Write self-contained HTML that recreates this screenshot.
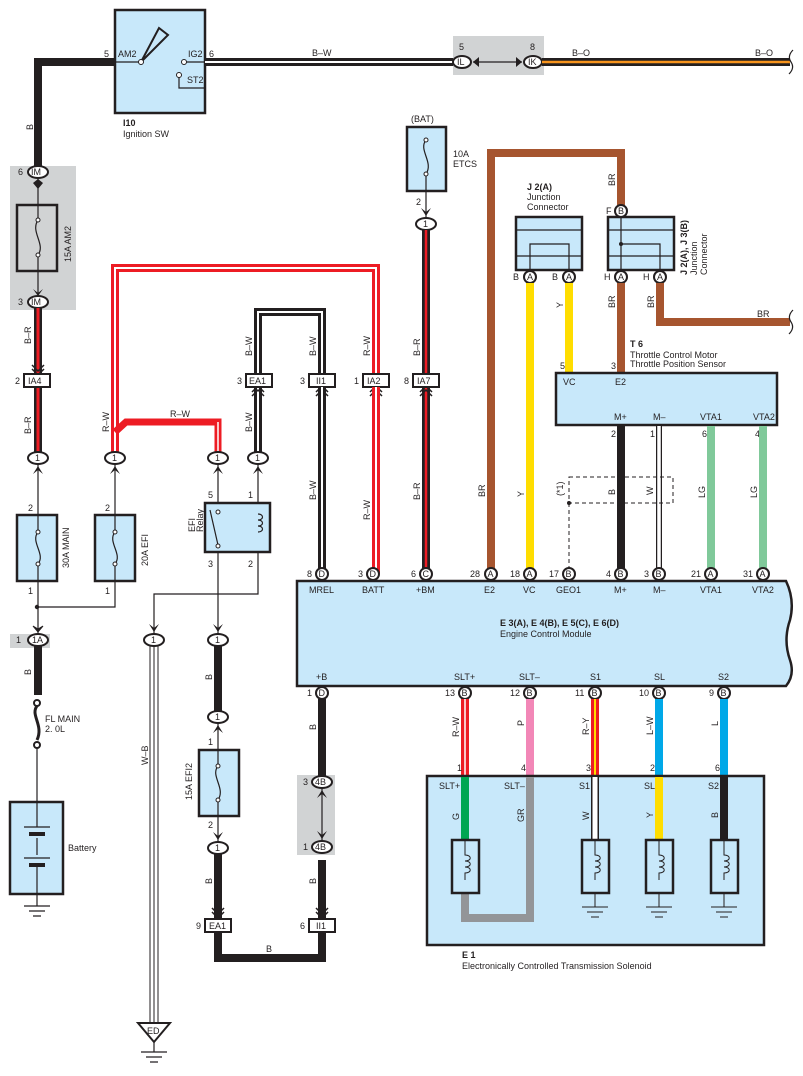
<!DOCTYPE html>
<html><head><meta charset="utf-8"><style>
html,body{margin:0;padding:0;background:#fff}
svg{display:block}
text{font-family:"Liberation Sans",sans-serif;font-size:9px;fill:#231f20}
.box{fill:#c8e8fa;stroke:#231f20;stroke-width:2.5}
.thin{stroke:#231f20;stroke-width:1.2;fill:none}
.pin{fill:#fff;stroke:#231f20;stroke-width:2}
</style></head><body>
<svg width="803" height="1076" viewBox="0 0 803 1076" xmlns="http://www.w3.org/2000/svg">
<!-- gray areas -->
<rect x="453" y="36" width="91" height="39" fill="#d1d3d4"/>
<rect x="10" y="166" width="66" height="144" fill="#d1d3d4"/>
<rect x="10" y="634" width="40" height="14" fill="#d1d3d4"/>
<rect x="297" y="775" width="38" height="80" fill="#d1d3d4"/>

<!-- Ignition SW -->
<rect class="box" x="115" y="10" width="90" height="103"/>
<path class="thin" d="M115 62 H141 M184 62 H205 M179 75 V88 H205"/>
<polygon points="141,62 159,28 168,35" fill="none" stroke="#231f20" stroke-width="2"/>
<circle cx="141" cy="62" r="2.5" fill="#fff" stroke="#231f20"/>
<circle cx="184" cy="62" r="2.5" fill="#fff" stroke="#231f20"/>
<circle cx="179" cy="75" r="2.5" fill="#fff" stroke="#231f20"/>
<text x="118" y="57">AM2</text><text x="188" y="57">IG2</text><text x="187" y="83">ST2</text>
<text x="104" y="57">5</text><text x="209" y="57">6</text>
<text x="123" y="126" font-weight="bold">I10</text><text x="123" y="137">Ignition SW</text>

<!-- top B wire -->
<path d="M115 62 H38 V166" stroke="#231f20" stroke-width="8" fill="none"/>
<text transform="translate(33,130) rotate(-90)">B</text>
<!-- B-W top -->
<path d="M205 62 H453" stroke="#231f20" stroke-width="8"/>
<path d="M205 62 H453" stroke="#fff" stroke-width="2"/>
<text x="312" y="56">B–W</text>
<ellipse class="pin" cx="462" cy="62" rx="9" ry="6"/><text x="457" y="65">IL</text><text x="459" y="50">5</text>
<ellipse class="pin" cx="533" cy="62" rx="9" ry="6"/><text x="528" y="65">IK</text><text x="530" y="50">8</text>
<path class="thin" d="M473 62 H522"/>
<path d="M479 57 L473 62 L479 67 Z M516 57 L522 62 L516 67 Z" fill="#231f20"/>
<path d="M542 62 H790" stroke="#231f20" stroke-width="8"/>
<path d="M542 62 H790" stroke="#f7941d" stroke-width="2.5"/>
<text x="572" y="56">B–O</text><text x="755" y="56">B–O</text>
<path d="M793 50 Q787 56 791 62 Q795 68 789 74" class="thin" stroke-width="2"/>

<!-- chevrons -->
<g fill="#231f20">
<path d="M33 474 L38 466 L43 474 L38 470 Z"/><path d="M110 474 L115 466 L120 474 L115 470 Z"/>
<path d="M213 474 L218 466 L223 474 L218 470 Z"/><path d="M253 474 L258 466 L263 474 L258 470 Z"/>
<path d="M149 624 L154 632 L159 624 L154 628 Z"/><path d="M213 624 L218 632 L223 624 L218 628 Z"/>
<path d="M213 733 L218 725 L223 733 L218 729 Z"/><path d="M213 832 L218 840 L223 832 L218 836 Z"/>
<path d="M317 798 L322 790 L327 798 L322 794 Z"/><path d="M317 831 L322 839 L327 831 L322 835 Z"/>
<path d="M421 208 L426 216 L431 208 L426 212 Z"/>
</g>
<path d="M212 908 L218 914 L224 908 M212 912 L218 918 L224 912" stroke="#231f20" stroke-width="1.5" fill="none"/>
<path d="M316 908 L322 914 L328 908 M316 912 L322 918 L328 912" stroke="#231f20" stroke-width="1.5" fill="none"/>

<!-- AM2 fuse -->
<ellipse class="pin" cx="38" cy="172" rx="10" ry="6"/><text x="31" y="175">IM</text><text x="18" y="175">6</text>
<path class="thin" d="M38 178 V205 M38 271 V296"/>
<path d="M33 183 L38 179 L43 183 L38 189 Z" fill="#231f20"/>
<path d="M33 289 L38 293 L43 289 L38 296 Z" fill="#231f20"/>
<rect x="17" y="205" width="40" height="66" fill="none" stroke="#231f20" stroke-width="2.5"/>
<path class="thin" d="M38 205 V220 C30 232,46 244,38 255 V271"/>
<circle cx="38" cy="220" r="2" fill="#fff" stroke="#231f20"/><circle cx="38" cy="255" r="2" fill="#fff" stroke="#231f20"/>
<text transform="translate(71,262) rotate(-90)">15A AM2</text>
<ellipse class="pin" cx="38" cy="302" rx="10" ry="6"/><text x="31" y="305">IM</text><text x="18" y="305">3</text>

<!-- B-R left -->
<path d="M38 308 V458" stroke="#231f20" stroke-width="8"/><path d="M38 308 V458" stroke="#ed1c24" stroke-width="3"/>
<text transform="translate(31,344) rotate(-90)">B–R</text><text transform="translate(31,434) rotate(-90)">B–R</text>
<path d="M32 365 L38 371 L44 365 M32 369 L38 375 L44 369" stroke="#231f20" stroke-width="1.5" fill="none"/>
<rect x="24" y="374" width="26" height="13" fill="#fff" stroke="#231f20" stroke-width="2"/><text x="28" y="384">IA4</text><text x="15" y="384">2</text>
<ellipse class="pin" cx="38" cy="458" rx="10" ry="6"/><text x="35" y="461">1</text>
<path class="thin" d="M38 464 V515 M38 581 V634"/>
<rect class="box" x="17" y="515" width="40" height="66"/>
<path class="thin" d="M38 515 V532 C30 542,46 554,38 564 V581"/>
<circle cx="38" cy="532" r="2" fill="#fff" stroke="#231f20"/><circle cx="38" cy="564" r="2" fill="#fff" stroke="#231f20"/>
<text transform="translate(69,568) rotate(-90)">30A MAIN</text>
<text x="28" y="511">2</text><text x="28" y="594">1</text>
<circle cx="37" cy="607" r="2.2" fill="#231f20"/>
<path class="thin" d="M37 607 H115 V581"/>
<path d="M33 626 L38 632 L43 626 L38 629 Z" fill="#231f20" stroke="#231f20"/>
<ellipse class="pin" cx="38" cy="640" rx="10" ry="6"/><text x="32" y="643">1A</text><text x="16" y="643">1</text>
<path d="M38 646 V695" stroke="#231f20" stroke-width="8"/>
<text transform="translate(31,675) rotate(-90)">B</text>
<circle cx="37" cy="703" r="3" fill="#fff" stroke="#231f20" stroke-width="2"/>
<path d="M37 706 C30 715,44 725,37 740" stroke="#231f20" stroke-width="3" fill="none"/>
<circle cx="37" cy="745" r="3" fill="#fff" stroke="#231f20" stroke-width="2"/>
<text x="45" y="722">FL MAIN</text><text x="45" y="732">2. 0L</text>
<path class="thin" d="M37 748 V802"/>
<rect class="box" x="10" y="802" width="53" height="92"/>
<path class="thin" d="M37 802 V827 M24 827 H50 M37 838 V855 M24 858 H50 M37 865 V894"/>
<rect x="29" y="832" width="16" height="4" fill="#231f20"/><rect x="29" y="863" width="16" height="4" fill="#231f20"/>
<text x="68" y="851">Battery</text>
<path class="thin" d="M37 894 V906 M24 906 H50 M29 911 H45 M33 916 H41"/>

<!-- red R-W wires -->
<path d="M115 458 V268 H376 V380" stroke="#ed1c24" stroke-width="8" fill="none"/>
<path d="M115 458 V268 H376 V380" stroke="#fff" stroke-width="2" fill="none"/>
<path d="M115 432 L126 422 H218 V458" stroke="#ed1c24" stroke-width="7" fill="none"/>
<path d="M218 422 V458" stroke="#fff" stroke-width="1.5"/>
<text transform="translate(109,432) rotate(-90)">R–W</text>
<text x="170" y="417">R–W</text>
<text transform="translate(370,356) rotate(-90)">R–W</text>
<path d="M370 392 L376 386 L382 392 M370 396 L376 390 L382 396" stroke="#231f20" stroke-width="1.5" fill="none"/>
<rect x="363" y="374" width="26" height="13" fill="#fff" stroke="#231f20" stroke-width="2"/><text x="367" y="384">IA2</text><text x="354" y="384">1</text>
<path d="M376 387 V574" stroke="#ed1c24" stroke-width="8"/><path d="M376 387 V574" stroke="#fff" stroke-width="2"/>
<text transform="translate(370,520) rotate(-90)">R–W</text>

<!-- B-W bridge -->
<path d="M258 458 V312 H322 V380" stroke="#231f20" stroke-width="8" fill="none"/>
<path d="M258 458 V312 H322 V380" stroke="#fff" stroke-width="2" fill="none"/>
<text transform="translate(252,356) rotate(-90)">B–W</text><text transform="translate(316,356) rotate(-90)">B–W</text>
<text transform="translate(252,432) rotate(-90)">B–W</text>
<path d="M252 392 L258 386 L264 392 M252 396 L258 390 L264 396" stroke="#231f20" stroke-width="1.5" fill="none"/>
<rect x="246" y="374" width="26" height="13" fill="#fff" stroke="#231f20" stroke-width="2"/><text x="249" y="384">EA1</text><text x="237" y="384">3</text>
<path d="M316 392 L322 386 L328 392 M316 396 L322 390 L328 396" stroke="#231f20" stroke-width="1.5" fill="none"/>
<rect x="309" y="374" width="26" height="13" fill="#fff" stroke="#231f20" stroke-width="2"/><text x="316" y="384">II1</text><text x="300" y="384">3</text>
<path d="M322 387 V574" stroke="#231f20" stroke-width="8"/><path d="M322 387 V574" stroke="#fff" stroke-width="2"/>
<text transform="translate(316,500) rotate(-90)">B–W</text>

<!-- 20A EFI -->
<ellipse class="pin" cx="115" cy="458" rx="10" ry="6"/><text x="112" y="461">1</text>
<path class="thin" d="M115 464 V515"/>
<rect class="box" x="95" y="515" width="40" height="66"/>
<path class="thin" d="M115 515 V532 C107 542,123 554,115 564 V581"/>
<circle cx="115" cy="532" r="2" fill="#fff" stroke="#231f20"/><circle cx="115" cy="564" r="2" fill="#fff" stroke="#231f20"/>
<text transform="translate(148,566) rotate(-90)">20A EFI</text>
<text x="105" y="511">2</text><text x="105" y="594">1</text>

<!-- EFI relay -->
<ellipse class="pin" cx="218" cy="458" rx="10" ry="6"/><text x="215" y="461">1</text>
<ellipse class="pin" cx="258" cy="458" rx="10" ry="6"/><text x="255" y="461">1</text>
<path class="thin" d="M218 464 V512 M258 464 V552 M218 548 V634 M258 552 V594 H154 V634"/>
<rect class="box" x="205" y="503" width="65" height="49"/>
<path class="thin" d="M210 510 L218 545"/>
<circle cx="218" cy="512" r="2" fill="#fff" stroke="#231f20"/><circle cx="218" cy="546" r="2" fill="#fff" stroke="#231f20"/>
<path class="thin" d="M258 514 C264 514,264 520,258 520 C264 520,264 526,258 526 C264 526,264 532,258 532"/>
<text x="208" y="498">5</text><text x="248" y="498">1</text><text x="208" y="567">3</text><text x="248" y="567">2</text>
<text transform="translate(195,532) rotate(-90)">EFI</text><text transform="translate(203,532) rotate(-90)">Relay</text>
<ellipse class="pin" cx="154" cy="640" rx="10" ry="6"/><text x="151" y="643">1</text>
<ellipse class="pin" cx="218" cy="640" rx="10" ry="6"/><text x="215" y="643">1</text>
<path d="M150 646 V1028 M154 646 V1028 M158 646 V1028" stroke="#231f20" stroke-width="1"/>
<text transform="translate(148,765) rotate(-90)">W–B</text>
<polygon points="138,1023 170,1023 154,1042" fill="#fff" stroke="#231f20" stroke-width="2"/>
<text x="147" y="1034">ED</text>
<path class="thin" d="M154 1042 V1052 M141 1052 H167 M146 1057 H162 M150 1062 H158"/>
<path d="M218 646 V711" stroke="#231f20" stroke-width="8"/>
<text transform="translate(212,680) rotate(-90)">B</text>
<ellipse class="pin" cx="218" cy="717" rx="10" ry="6"/><text x="215" y="720">1</text>
<path class="thin" d="M218 723 V750 M218 816 V842"/>
<rect class="box" x="199" y="750" width="40" height="66"/>
<path class="thin" d="M218 750 V766 C210 776,226 788,218 800 V816"/>
<circle cx="218" cy="766" r="2" fill="#fff" stroke="#231f20"/><circle cx="218" cy="800" r="2" fill="#fff" stroke="#231f20"/>
<text transform="translate(192,800) rotate(-90)">15A EFI2</text>
<text x="208" y="745">1</text><text x="208" y="828">2</text>
<ellipse class="pin" cx="218" cy="848" rx="10" ry="6"/><text x="215" y="851">1</text>
<path d="M218 854 V958 H322 V860" stroke="#231f20" stroke-width="8" fill="none"/>
<text transform="translate(212,884) rotate(-90)">B</text><text x="266" y="952">B</text>
<rect x="205" y="919" width="26" height="13" fill="#fff" stroke="#231f20" stroke-width="2"/><text x="209" y="929">EA1</text><text x="196" y="929">9</text>
<rect x="309" y="919" width="26" height="13" fill="#fff" stroke="#231f20" stroke-width="2"/><text x="316" y="929">II1</text><text x="300" y="929">6</text>
<text transform="translate(316,884) rotate(-90)">B</text>
<ellipse class="pin" cx="322" cy="847" rx="10" ry="6"/><text x="315" y="850">4B</text><text x="303" y="850">1</text>
<ellipse class="pin" cx="322" cy="782" rx="10" ry="6"/><text x="315" y="785">4B</text><text x="303" y="785">3</text>
<path class="thin" d="M322 788 V841"/>
<path d="M322 699 V776" stroke="#231f20" stroke-width="8"/>
<text transform="translate(316,730) rotate(-90)">B</text>

<!-- 10A ETCS -->
<text x="411" y="122">(BAT)</text>
<rect class="box" x="407" y="127" width="39" height="64"/>
<path class="thin" d="M426 140 C418 150,434 162,426 174 V218"/>
<circle cx="426" cy="140" r="2" fill="#fff" stroke="#231f20"/><circle cx="426" cy="174" r="2" fill="#fff" stroke="#231f20"/>
<text x="453" y="157">10A</text><text x="453" y="167">ETCS</text><text x="416" y="205">2</text>
<ellipse class="pin" cx="426" cy="224" rx="10" ry="6"/><text x="423" y="227">1</text>
<path d="M426 230 V374 M426 387 V574" stroke="#231f20" stroke-width="8"/>
<path d="M426 230 V374 M426 387 V574" stroke="#ed1c24" stroke-width="2.5"/>
<text transform="translate(420,356) rotate(-90)">B–R</text><text transform="translate(420,500) rotate(-90)">B–R</text>
<path d="M420 392 L426 386 L432 392 M420 396 L426 390 L432 396" stroke="#231f20" stroke-width="1.5" fill="none"/>
<rect x="413" y="374" width="26" height="13" fill="#fff" stroke="#231f20" stroke-width="2"/><text x="417" y="384">IA7</text><text x="404" y="384">8</text>

<!-- brown/yellow -->
<path d="M491 574 V153 H621 V205" stroke="#a6552f" stroke-width="8" fill="none"/>
<text transform="translate(485,497) rotate(-90)">BR</text><text transform="translate(615,186) rotate(-90)">BR</text>
<rect class="box" x="516" y="217" width="66" height="53"/>
<path class="thin" d="M516 230 H582 M516 256 H582 M530 277 V244 H569 V277"/>
<text x="527" y="190" font-weight="bold">J 2(A)</text><text x="527" y="200">Junction</text><text x="527" y="210">Connector</text>
<rect class="box" x="608" y="217" width="66" height="53"/>
<path class="thin" d="M608 230 H674 M608 256 H674 M621 217 V277 M621 244 H660 V277"/>
<circle cx="621" cy="244" r="2" fill="#231f20"/>
<text transform="translate(687,275) rotate(-90)" font-weight="bold">J 2(A), J 3(B)</text>
<text transform="translate(697,275) rotate(-90)">Junction</text><text transform="translate(707,275) rotate(-90)">Connector</text>
<circle class="pin" cx="621" cy="211" r="6"/><text x="618" y="214">B</text><text x="606" y="214">F</text>
<g>
<circle class="pin" cx="530" cy="277" r="6"/><text x="527" y="280">A</text><text x="513" y="280">B</text>
<circle class="pin" cx="569" cy="277" r="6"/><text x="566" y="280">A</text><text x="552" y="280">B</text>
<circle class="pin" cx="621" cy="277" r="6"/><text x="618" y="280">A</text><text x="604" y="280">H</text>
<circle class="pin" cx="660" cy="277" r="6"/><text x="657" y="280">A</text><text x="643" y="280">H</text>
</g>
<path d="M530 283 V568" stroke="#ffdd00" stroke-width="8"/>
<path d="M569 283 V373" stroke="#ffdd00" stroke-width="8"/>
<path d="M621 283 V373" stroke="#a6552f" stroke-width="8"/>
<path d="M660 283 V322 H790" stroke="#a6552f" stroke-width="8" fill="none"/>
<path d="M793 310 Q787 316 791 322 Q795 328 789 334" class="thin" stroke-width="2"/>
<text x="757" y="317">BR</text>
<text transform="translate(563,308) rotate(-90)">Y</text><text transform="translate(524,497) rotate(-90)">Y</text>
<text transform="translate(615,308) rotate(-90)">BR</text><text transform="translate(654,308) rotate(-90)">BR</text>
<text x="630" y="347" font-weight="bold">T 6</text><text x="630" y="358">Throttle Control Motor</text><text x="630" y="367">Throttle Position Sensor</text>
<text x="560" y="369">5</text><text x="611" y="369">3</text>
<rect class="box" x="556" y="373" width="221" height="52"/>
<text x="563" y="385">VC</text><text x="615" y="385">E2</text>
<text x="614" y="420">M+</text><text x="653" y="420">M–</text><text x="700" y="420">VTA1</text><text x="753" y="420">VTA2</text>
<text x="611" y="437">2</text><text x="650" y="437">1</text><text x="702" y="437">6</text><text x="755" y="437">4</text>
<path d="M621 426 V568" stroke="#231f20" stroke-width="8"/>
<path d="M659 426 V568" stroke="#231f20" stroke-width="6"/><path d="M659 426 V568" stroke="#fff" stroke-width="3.5"/>
<path d="M711 426 V568 M763 426 V568" stroke="#80c99a" stroke-width="8"/>
<rect x="569" y="477" width="104" height="26" fill="none" stroke="#231f20" stroke-width="1" stroke-dasharray="4,3"/>
<path d="M569 503 V568" stroke="#231f20" stroke-width="1" stroke-dasharray="4,3"/>
<circle cx="569" cy="503" r="2" fill="#231f20"/>
<text transform="translate(563,496) rotate(-90)">(*1)</text>
<text transform="translate(615,495) rotate(-90)">B</text><text transform="translate(653,495) rotate(-90)">W</text>
<text transform="translate(705,498) rotate(-90)">LG</text><text transform="translate(757,498) rotate(-90)">LG</text>

<!-- ECM -->
<path class="box" d="M297 581 H786 Q795 600 790 620 Q783 640 790 660 Q795 675 786 686 H297 Z"/>
<text x="309" y="593">MREL</text><text x="362" y="593">BATT</text><text x="416" y="593">+BM</text>
<text x="484" y="593">E2</text><text x="523" y="593">VC</text><text x="556" y="593">GEO1</text>
<text x="614" y="593">M+</text><text x="653" y="593">M–</text><text x="700" y="593">VTA1</text><text x="752" y="593">VTA2</text>
<text x="500" y="626" font-weight="bold">E 3(A), E 4(B), E 5(C), E 6(D)</text>
<text x="500" y="637">Engine Control Module</text>
<text x="316" y="680">+B</text><text x="454" y="680">SLT+</text><text x="519" y="680">SLT–</text>
<text x="590" y="680">S1</text><text x="654" y="680">SL</text><text x="718" y="680">S2</text>
<g>
<circle class="pin" cx="322" cy="574" r="6"/><text x="318.5" y="577">D</text><text x="307" y="577">8</text>
<circle class="pin" cx="373" cy="574" r="6"/><text x="369.5" y="577">D</text><text x="358" y="577">3</text>
<circle class="pin" cx="426" cy="574" r="6"/><text x="422.5" y="577">C</text><text x="411" y="577">6</text>
<circle class="pin" cx="491" cy="574" r="6"/><text x="487.5" y="577">A</text><text x="470" y="577">28</text>
<circle class="pin" cx="530" cy="574" r="6"/><text x="526.5" y="577">A</text><text x="510" y="577">18</text>
<circle class="pin" cx="569" cy="574" r="6"/><text x="565.5" y="577">B</text><text x="549" y="577">17</text>
<circle class="pin" cx="621" cy="574" r="6"/><text x="617.5" y="577">B</text><text x="606" y="577">4</text>
<circle class="pin" cx="659" cy="574" r="6"/><text x="655.5" y="577">B</text><text x="644" y="577">3</text>
<circle class="pin" cx="711" cy="574" r="6"/><text x="707.5" y="577">A</text><text x="691" y="577">21</text>
<circle class="pin" cx="763" cy="574" r="6"/><text x="759.5" y="577">A</text><text x="743" y="577">31</text>
<circle class="pin" cx="322" cy="693" r="6"/><text x="318.5" y="696">D</text><text x="307" y="696">1</text>
<circle class="pin" cx="465" cy="693" r="6"/><text x="461.5" y="696">B</text><text x="445" y="696">13</text>
<circle class="pin" cx="530" cy="693" r="6"/><text x="526.5" y="696">B</text><text x="510" y="696">12</text>
<circle class="pin" cx="595" cy="693" r="6"/><text x="591.5" y="696">B</text><text x="575" y="696">11</text>
<circle class="pin" cx="659" cy="693" r="6"/><text x="655.5" y="696">B</text><text x="639" y="696">10</text>
<circle class="pin" cx="724" cy="693" r="6"/><text x="720.5" y="696">B</text><text x="709" y="696">9</text>
</g>
<!-- bottom wires -->
<path d="M465 699 V776" stroke="#ed1c24" stroke-width="8"/><path d="M465 699 V776" stroke="#fff" stroke-width="1.5"/>
<path d="M530 699 V776" stroke="#f287b7" stroke-width="8"/>
<path d="M595 699 V776" stroke="#ed1c24" stroke-width="8"/><path d="M595 699 V776" stroke="#ffdd00" stroke-width="2"/>
<path d="M659 699 V776 M724 699 V776" stroke="#00a8e8" stroke-width="8"/>
<text transform="translate(459,737) rotate(-90)">R–W</text><text transform="translate(524,726) rotate(-90)">P</text>
<text transform="translate(589,735) rotate(-90)">R–Y</text><text transform="translate(653,735) rotate(-90)">L–W</text><text transform="translate(718,726) rotate(-90)">L</text>
<text x="457" y="771">1</text><text x="521" y="771">4</text><text x="586" y="771">3</text><text x="650" y="771">2</text><text x="715" y="771">6</text>
<!-- E1 -->
<rect class="box" x="427" y="776" width="337" height="169"/>
<text x="439" y="789">SLT+</text><text x="504" y="789">SLT–</text><text x="579" y="789">S1</text><text x="644" y="789">SL</text><text x="708" y="789">S2</text>
<path d="M465 777 V840" stroke="#00a651" stroke-width="8"/>
<path d="M530 777 V918 H465 V893" stroke="#939598" stroke-width="8" fill="none"/>
<path d="M595 777 V840" stroke="#231f20" stroke-width="8"/><path d="M595 777 V840" stroke="#fff" stroke-width="5"/>
<path d="M659 777 V840" stroke="#ffdd00" stroke-width="8"/>
<path d="M724 777 V840" stroke="#231f20" stroke-width="8"/>
<text transform="translate(459,820) rotate(-90)">G</text><text transform="translate(524,822) rotate(-90)">GR</text>
<text transform="translate(589,820) rotate(-90)">W</text><text transform="translate(653,818) rotate(-90)">Y</text><text transform="translate(718,818) rotate(-90)">B</text>
<g fill="none" stroke="#231f20">
<rect x="452" y="840" width="27" height="53" stroke-width="2.5" fill="#c8e8fa"/>
<rect x="582" y="840" width="27" height="53" stroke-width="2.5" fill="#c8e8fa"/>
<rect x="646" y="840" width="27" height="53" stroke-width="2.5" fill="#c8e8fa"/>
<rect x="711" y="840" width="27" height="53" stroke-width="2.5" fill="#c8e8fa"/>
<path stroke-width="1" d="M465 840 V855 C472 855,472 861,465 861 C472 861,472 867,465 867 C472 867,472 873,465 873 V880
M595 840 V855 C602 855,602 861,595 861 C602 861,602 867,595 867 C602 867,602 873,595 873 V880 M595 893 V907 M582 907 H608 M587 912 H603 M591 917 H599
M659 840 V855 C666 855,666 861,659 861 C666 861,666 867,659 867 C666 867,666 873,659 873 V880 M659 893 V907 M646 907 H672 M651 912 H667 M655 917 H663
M724 840 V855 C731 855,731 861,724 861 C731 861,731 867,724 867 C731 867,731 873,724 873 V880 M724 893 V907 M711 907 H737 M716 912 H732 M720 917 H728"/>
</g>
<text x="462" y="958" font-weight="bold">E 1</text>
<text x="462" y="969">Electronically Controlled Transmission Solenoid</text>
</svg>
</body></html>
